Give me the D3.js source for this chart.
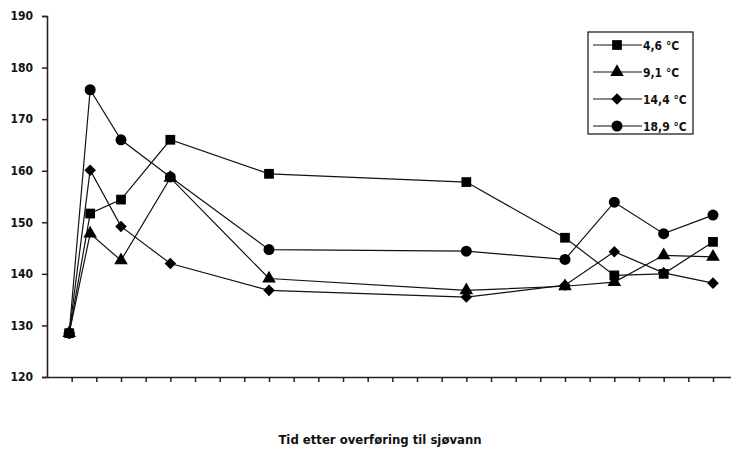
<!DOCTYPE html>
<html><head><meta charset="utf-8">
<script src="https://cdn.jsdelivr.net/npm/d3@7"></script>
<style>body{margin:0;background:#fff}svg{display:block}text{font-family:"DejaVu Sans Condensed","DejaVu Sans",sans-serif;font-stretch:condensed}</style>
</head><body><svg id="c" width="731" height="454"></svg>
<script>
// time positions (in tick units) of the measurements
const xTimes = [0.9, 1.75, 3, 5, 9, 17, 21, 23, 25, 27];
const seriesNames = ["4,6 °C", "9,1 °C", "14,4 °C", "18,9 °C"];
const s46  = [128.5, 151.7, 154.4, 166.0, 159.4, 157.8, 147.0, 139.7, 140.0, 146.2];
const s91  = [128.5, 147.8, 142.6, 158.6, 139.1, 136.8, 137.6, 138.4, 143.6, 143.3];
const s144 = [128.5, 160.1, 149.2, 142.0, 136.8, 135.5, 137.8, 144.3, 140.2, 138.2];
const s189 = [128.5, 175.7, 166.0, 158.8, 144.7, 144.4, 142.8, 153.9, 147.8, 151.4];
const yTicks = [120, 130, 140, 150, 160, 170, 180, 190];
const xTickCount = 28;
const xTitle = "Tid etter overføring til sjøvann";

const svg = d3.select("#c");
const x = d3.scaleLinear().domain([0, 27.73]).range([47, 731]);
const y = d3.scaleLinear().domain([120, 190]).range([377, 16]);

const symbols = [d3.symbolSquare, d3.symbolTriangle, d3.symbolDiamond2, d3.symbolCircle];
const sizes = [95, 80, 85, 95];
const data = [s46, s91, s144, s189];

// axes
const yAx = svg.append("g").attr("transform", "translate(47,0)")
  .call(d3.axisLeft(y).tickValues(yTicks).tickSize(5).tickPadding(9).tickFormat(d3.format("d")));
yAx.select(".domain").attr("stroke", "#222").attr("stroke-width", 1.6);
yAx.selectAll(".tick line").attr("stroke", "#222").attr("stroke-width", 1.5);
yAx.selectAll("text").attr("font-size", 12).attr("fill", "#111").attr("font-weight", "bold");

const xAx = svg.append("g").attr("transform", "translate(0,377)")
  .call(d3.axisBottom(x).tickValues(d3.range(1, xTickCount)).tickSize(5).tickSizeOuter(0).tickFormat(""));
xAx.select(".domain").attr("stroke", "#222").attr("stroke-width", 1.6);
xAx.selectAll(".tick line").attr("stroke", "#222").attr("stroke-width", 1.5);

// lines
const line = d3.line().x((d, i) => x(xTimes[i])).y(d => y(d));
data.forEach((s, k) => {
  svg.append("path").datum(s).attr("d", line).attr("fill", "none")
    .attr("stroke", "#111").attr("stroke-width", 1.2);
});
data.forEach((s, k) => {
  svg.append("g").selectAll("path").data(s).join("path")
    .attr("transform", (d, i) => `translate(${x(xTimes[i])},${y(d)})`)
    .attr("d", d3.symbol().type(symbols[k]).size(sizes[k]))
    .attr("fill", "#000");
});

// legend
const lg = svg.append("g");
lg.append("rect").attr("x", 588).attr("y", 32).attr("width", 105).attr("height", 102)
  .attr("fill", "#fff").attr("stroke", "#111").attr("stroke-width", 1.2);
seriesNames.forEach((n, k) => {
  const yy = 45 + k * 27;
  lg.append("line").attr("x1", 593).attr("x2", 642).attr("y1", yy).attr("y2", yy)
    .attr("stroke", "#111").attr("stroke-width", 1.2);
  lg.append("path").attr("transform", `translate(617,${yy})`)
    .attr("d", d3.symbol().type(symbols[k]).size(sizes[k])).attr("fill", "#000");
  lg.append("text").attr("x", 643).attr("y", yy + 4.5).attr("font-size", 12)
    .attr("font-weight", "bold").attr("fill", "#111").text(n);
});

svg.append("text").attr("x", 380).attr("y", 444).attr("text-anchor", "middle")
  .attr("font-size", 13).attr("font-weight", "bold").attr("fill", "#111").text(xTitle);
</script></body></html>
